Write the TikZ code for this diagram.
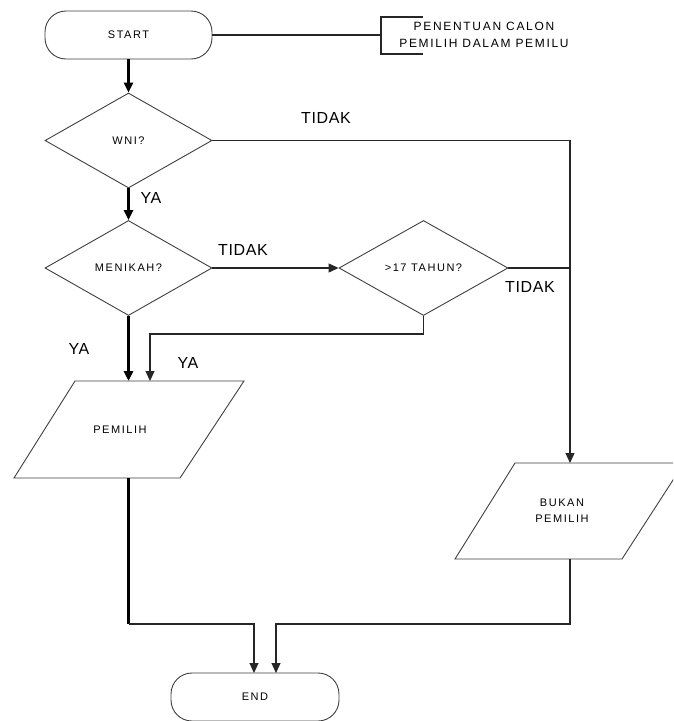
\documentclass[tikz,border=0pt]{standalone}
\usepackage{fontspec}
\setmainfont{Liberation Sans}
\newfontfamily\nodefont[LetterSpace=14]{Liberation Sans}
\newfontfamily\lblfont[LetterSpace=4]{Liberation Sans}
\usetikzlibrary{shapes.geometric,arrows.meta}
\begin{document}
\begin{tikzpicture}[x=1pt,y=-1pt,
  thinline/.style={line width=1.2pt,draw=black!85},
  thickline/.style={line width=2.8pt,draw=black},
  tip/.style={-{Triangle[length=10pt,width=9pt]}},
  shapeline/.style={line width=0.9pt,draw=black!75},
  term/.style={shapeline,rectangle,rounded corners=21pt,minimum width=167pt,minimum height=48pt,inner sep=0pt,font=\nodefont\fontsize{11}{16}\selectfont},
  dec/.style={shapeline,diamond,minimum width=167pt,minimum height=95pt,inner sep=0pt,font=\nodefont\fontsize{11}{16}\selectfont},
  txt/.style={align=center,inner sep=0pt,font=\nodefont\fontsize{11}{16}\selectfont},
  lbl/.style={inner sep=0pt,font=\lblfont\fontsize{16}{18}\selectfont}]
\useasboundingbox (0,0) rectangle (673,721);
\clip (0,0) rectangle (673,721);
\fill[white] (0,0) rectangle (673,721);

% nodes
\node[term] (start) at (128.5,35) {START};
\node[txt,font=\nodefont\fontsize{12}{17}\selectfont] (note) at (484,35) {PENENTUAN CALON\\PEMILIH DALAM PEMILU};
\coordinate (br) at (381,35);
\draw[thinline] (423,17) -- (381,17) -- (381,54) -- (423,54);

\node[dec] (wni) at (128.5,140.5) {WNI?};
\node[dec] (men) at (128.5,268) {MENIKAH?};
\node[dec,minimum width=169pt] (umur) at (423.5,268) {>17 TAHUN?};

\draw[shapeline] (75,381) -- (244,381) -- (180,478) -- (14,478) -- cycle;
\node[txt] (pem) at (120,430) {PEMILIH};
\coordinate (pemtopa) at (128.5,381);
\coordinate (pemtopb) at (150,381);
\coordinate (pembot) at (128.5,478);

\draw[shapeline] (515,463) -- (684,463) -- (622,559) -- (455,559) -- cycle;
\node[txt] (bukan) at (562,511) {BUKAN\\PEMILIH};
\coordinate (buktop) at (570,463);
\coordinate (bukbot) at (570,559);

\node[term,minimum width=168pt] (end) at (255,697) {END};
\coordinate (enda) at (254,673);
\coordinate (endb) at (276,673);

% connectors
\draw[thinline] (start.east) -- (br);
\draw[thickline,tip] (start.south) -- (wni.north);
\draw[thinline,tip] (wni.east) -- (570,140.5) -- (buktop);
\draw[thickline,tip] (wni.south) -- (men.north);
\draw[thinline,tip] (men.east) -- (umur.west);
\draw[thinline] (umur.east) -- (570,268);
\draw[thinline,tip] (umur.south) -- (423.5,334) -- (150,334) -- (pemtopb);
\draw[thickline,tip] (men.south) -- (pemtopa);
\draw[thickline] (pembot) -- (128.5,624);
\draw[thinline,tip] (128.5,624) -- (254,624) -- (enda);
\draw[thinline,tip] (bukbot) -- (570,624) -- (276,624) -- (endb);

% labels
\node[lbl] (l1) at (326,118) {TIDAK};
\node[lbl] (l2) at (151,198) {YA};
\node[lbl] (l3) at (243,250) {TIDAK};
\node[lbl] (l4) at (530,287) {TIDAK};
\node[lbl] (l5) at (79,349) {YA};
\node[lbl] (l6) at (188,363) {YA};
\end{tikzpicture}
\end{document}
